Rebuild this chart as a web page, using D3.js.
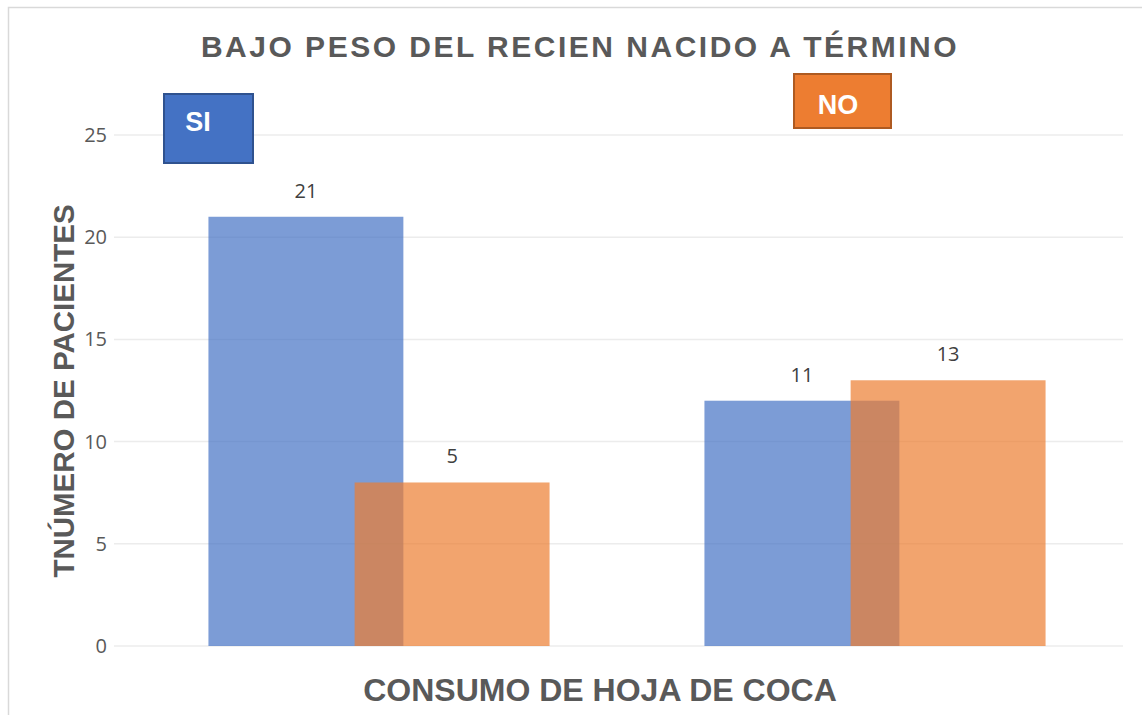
<!DOCTYPE html>
<html><head><meta charset="utf-8">
<script src="https://cdn.jsdelivr.net/npm/d3@7"></script>
<style>body{margin:0;background:#fff}svg{display:block}</style>
</head><body>
<svg id="c" width="1142" height="715"></svg>
<script>
const categories = ["SI", "NO"];
const series = ["Bajo peso", "Peso normal"];
const barValuesBlue = [21, 12];
const barValuesOrange = [8, 13];
const labelsBlue = ["21", "11"];
const labelsOrange = ["5", "13"];
const yTicks = [0, 5, 10, 15, 20, 25];
const title = "BAJO PESO DEL RECIEN NACIDO A TÉRMINO";
const xTitle = "CONSUMO DE HOJA DE COCA";
const yTitle = "TNÚMERO DE PACIENTES";

const svg = d3.select("#c");
const W = 1142, H = 715;
svg.append("path").attr("d", `M8.5,${H} L8.5,7.5 L${W},7.5`).attr("fill","none").attr("stroke","#d9d9d9").attr("stroke-width",1.5);

const y = d3.scaleLinear().domain([0, 25]).range([646, 135]);
const x0 = d3.scaleBand().domain(categories).range([131, 1123]);
const gridX1 = 114, gridX2 = 1123;

svg.append("g").selectAll("line").data(yTicks).join("line")
  .attr("x1", gridX1).attr("x2", gridX2)
  .attr("y1", d => y(d)).attr("y2", d => y(d))
  .attr("stroke", "#ececec").attr("stroke-width", 1.5);

const yAxis = d3.axisLeft(y).tickValues(yTicks).tickSize(0).tickPadding(0);
const ga = svg.append("g").attr("transform", `translate(107,0)`).call(yAxis);
ga.select(".domain").remove();
ga.selectAll("text").attr("font-family","'Open Sans', 'Noto Sans', sans-serif").attr("font-size", 20).attr("fill","#595959");

const bw = x0.bandwidth() * 0.393;
const off = bw * 0.75;
const groupW = bw + off;
const bx = (c, i) => x0(c) + (x0.bandwidth() - groupW) / 2 + i * off;

const sets = [
  {vals: barValuesBlue, labels: labelsBlue, color: "#4472C4", i: 0},
  {vals: barValuesOrange, labels: labelsOrange, color: "#ED7D31", i: 1}
];
sets.forEach(s => {
  svg.append("g").selectAll("rect").data(categories).join("rect")
    .attr("x", (c) => bx(c, s.i))
    .attr("y", (c, j) => y(s.vals[j]))
    .attr("width", bw)
    .attr("height", (c, j) => y(0) - y(s.vals[j]))
    .attr("fill", s.color).attr("fill-opacity", 0.7);
});
sets.forEach(s => {
  svg.append("g").selectAll("text").data(categories).join("text")
    .attr("x", (c) => bx(c, s.i) + bw / 2)
    .attr("y", (c, j) => y(s.vals[j]) - 19)
    .attr("text-anchor", "middle")
    .attr("font-family","'Open Sans', 'Noto Sans', sans-serif").attr("font-size", 20).attr("fill","#404040")
    .text((c, j) => s.labels[j]);
});

svg.append("text").attr("x", 580).attr("y", 57).attr("text-anchor","middle")
  .attr("font-family","'Liberation Sans', Arial, sans-serif").attr("font-weight","bold")
  .attr("font-size", 30).attr("letter-spacing", 2.5).attr("fill","#595959").text(title);

svg.append("text").attr("x", 600).attr("y", 701).attr("text-anchor","middle")
  .attr("font-family","'Liberation Sans', Arial, sans-serif").attr("font-weight","bold")
  .attr("font-size", 32).attr("fill","#595959").text(xTitle);

svg.append("text").attr("transform","translate(74,391) rotate(-90)").attr("text-anchor","middle")
  .attr("font-family","'Liberation Sans', Arial, sans-serif").attr("font-weight","bold")
  .attr("font-size", 29.5).attr("fill","#595959").text(yTitle);

const boxes = [
  {t: categories[0], x: 164, y: 94, w: 89, h: 69, fill: "#4472C4", stroke: "#2F528F", tx: 198, ty: 131},
  {t: categories[1], x: 794, y: 74, w: 97, h: 54, fill: "#ED7D31", stroke: "#AE5A21", tx: 838, ty: 114}
];
boxes.forEach(b => {
  svg.append("rect").attr("x", b.x).attr("y", b.y).attr("width", b.w).attr("height", b.h)
    .attr("fill", b.fill).attr("stroke", b.stroke).attr("stroke-width", 2);
  svg.append("text").attr("x", b.tx).attr("y", b.ty).attr("text-anchor","middle")
    .attr("font-family","'Liberation Sans', Arial, sans-serif").attr("font-weight","bold")
    .attr("font-size", 27).attr("fill","#fff").text(b.t);
});
</script>
</body></html>
